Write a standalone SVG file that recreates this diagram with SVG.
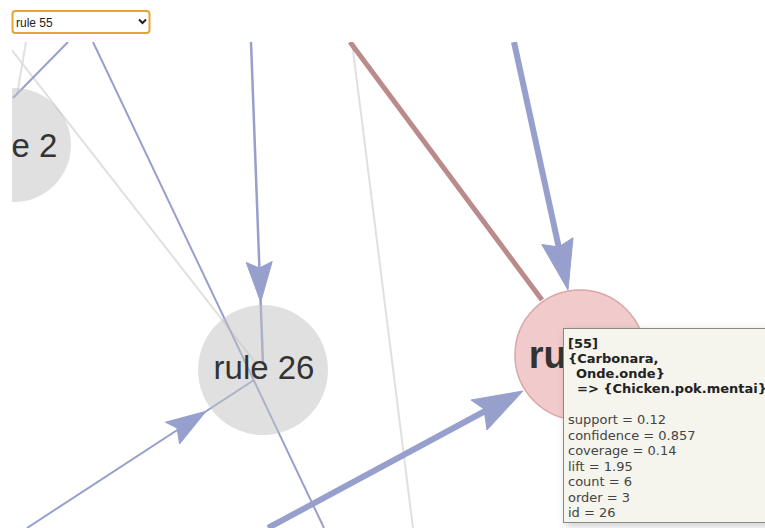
<svg xmlns="http://www.w3.org/2000/svg" width="765" height="528" viewBox="0 0 765 528">
<style>
.edge-blue{stroke:#97a0cc;fill:none;stroke-linecap:butt}
.edge-gray{stroke:#e2dfdf;fill:none;stroke-width:2}
.edge-brown{stroke:#bb8b8b;fill:none;stroke-width:5}
.arrow{fill:#97a0cc;stroke:#97a0cc;stroke-width:1;stroke-linejoin:round}
.node-gray{fill:#c1c1c1;fill-opacity:0.5}
.node-sel{fill:#f1cbcb;stroke:#d9a7a7;stroke-width:1.5}
.label{font-family:"Liberation Sans",Arial,sans-serif;fill:#333;text-anchor:middle}
.tt{font-family:"DejaVu Sans",Verdana,sans-serif;font-size:13px;fill:#444}
.ttb{font-family:"DejaVu Sans",Verdana,sans-serif;font-size:13px;font-weight:bold;fill:#222}
</style>
<defs>
<clipPath id="canvas"><rect x="12" y="42" width="753" height="486"/></clipPath>
<filter id="shadow" x="-10%" y="-10%" width="130%" height="130%">
<feDropShadow dx="3" dy="3" stdDeviation="4" flood-color="#000" flood-opacity="0.2"/>
</filter>
</defs>
<rect width="765" height="528" fill="#fff"/>
<g clip-path="url(#canvas)">
<g id="connectors">
<line class="edge-gray" x1="26" y1="42" x2="17" y2="95"/>
<line class="edge-gray" x1="4" y1="40" x2="255" y2="362"/>
<line class="edge-gray" x1="352" y1="42" x2="413" y2="528"/>
<line class="edge-blue" stroke-width="2" x1="68" y1="42" x2="13" y2="98"/>
<line class="edge-blue" stroke-width="2" x1="93" y1="42" x2="324" y2="528"/>
<line class="edge-blue" stroke-width="2.5" x1="251" y1="42" x2="263" y2="365"/>
<polygon class="arrow" points="260.7,302 246.2,262.5 259.4,268 272.2,261.5"/>
<line class="edge-blue" stroke-width="2" x1="27" y1="528" x2="254" y2="380"/>
<polygon class="arrow" points="206,411.3 165.4,422.2 177,428 179.6,444"/>
<line class="edge-brown" x1="350" y1="42" x2="542" y2="300"/>
<line class="edge-blue" stroke-width="6" x1="514" y1="42" x2="562" y2="262"/>
<polygon class="arrow" points="568,290 541.8,244.5 558.7,247 573,237.7"/>
<line class="edge-blue" stroke-width="6" x1="268" y1="528" x2="500" y2="403"/>
<polygon class="arrow" points="523,391 471,400 484,409 487,430"/>
</g>
<g id="node-rule2">
<circle class="node-gray" cx="14" cy="145" r="57"/>
<text class="label" x="16" y="157" font-size="33">rule 2</text>
</g>
<g id="node-rule26">
<circle class="node-gray" cx="263" cy="370" r="65"/>
<text class="label" x="264" y="379" font-size="33">rule 26</text>
</g>
<g id="node-rule55">
<circle class="node-sel" cx="580" cy="355" r="65"/>
<text class="label" x="590" y="368" font-size="38" font-weight="bold">rule 55</text>
</g>
</g>
<g id="selector">
<rect x="12.5" y="11" width="137" height="22" rx="3" fill="#fff" stroke="#e5a43a" stroke-width="2"/>
<text x="16" y="26.5" font-family="Liberation Sans,Arial,sans-serif" font-size="12" fill="#222">rule 55</text>
<path d="M139,19.5 L142.5,23 L146,19.5" fill="none" stroke="#222" stroke-width="2"/>
</g>
<g id="tooltip">
<rect x="563.5" y="328.5" width="220" height="194" fill="#f5f4ed" stroke="#8a8a80" stroke-width="1" filter="url(#shadow)"/>
<text class="ttb" x="568" y="348">[55]</text>
<text class="ttb" x="568" y="363">{Carbonara,</text>
<text class="ttb" x="576" y="378">Onde.onde}</text>
<text class="ttb" x="577" y="393">=&gt; {Chicken.pok.mentai}</text>
<text class="tt" x="568" y="424">support = 0.12</text>
<text class="tt" x="568" y="439.5">confidence = 0.857</text>
<text class="tt" x="568" y="455">coverage = 0.14</text>
<text class="tt" x="568" y="470.5">lift = 1.95</text>
<text class="tt" x="568" y="486">count = 6</text>
<text class="tt" x="568" y="501.5">order = 3</text>
<text class="tt" x="568" y="517">id = 26</text>
</g>
</svg>
